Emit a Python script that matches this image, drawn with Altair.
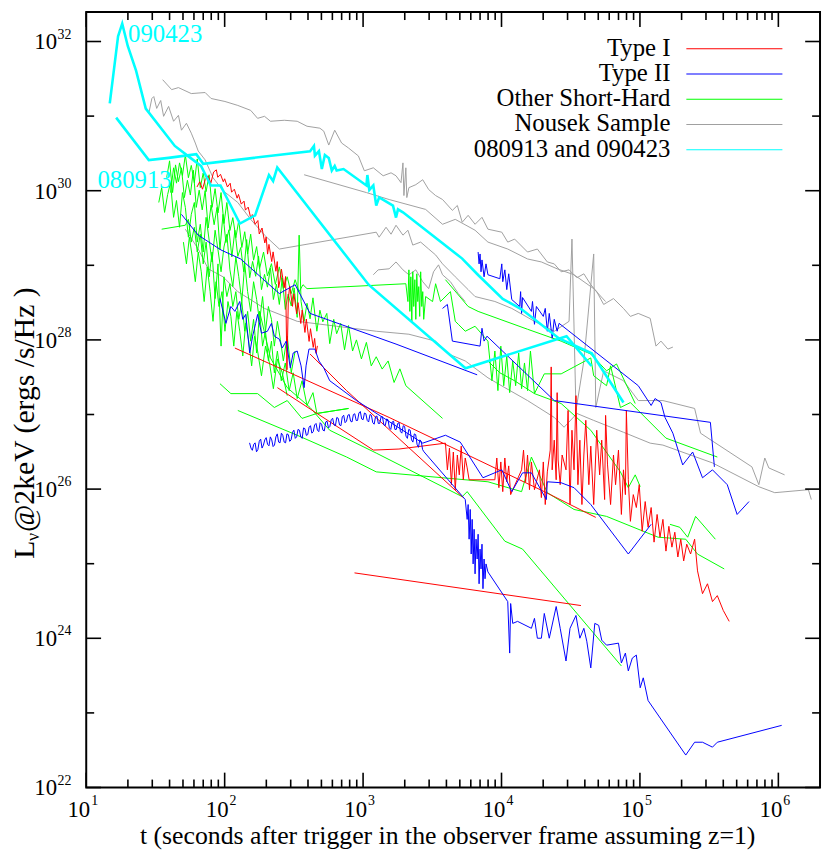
import altair as alt
import pandas as pd

# ---------------- data: (log10 t [s], log10 L_nu [erg/s/Hz]) ----------------
CYAN_090423 = [(1.17,31.17),(1.23,32.07),(1.26,32.24),(1.30,31.94),(1.36,31.61),(1.43,31.10),(1.64,30.60),(1.76,30.43),(1.83,30.33),(1.90,30.07),(1.97,30.07),(2.11,29.56),(2.22,29.67),(2.32,30.21),(2.35,30.13),(2.38,30.31),(3.04,28.74),(3.74,27.62),(4.47,28.05),(4.65,27.65)]
CYAN_080913 = [(1.216,30.98),(1.452,30.41),(1.595,30.44),(1.795,30.49),(1.845,30.36),(2.617,30.53),(2.645,30.60),(2.652,30.47),(2.681,30.53),(2.702,30.29),(2.724,30.48),(2.752,30.44),(2.774,30.27),(2.795,30.33),(2.809,30.27),(2.859,30.29),(3.024,30.07),(3.031,30.21),(3.045,30.01),(3.074,30.07),(3.095,29.80),(3.116,29.91),(3.216,29.80),(3.238,29.64),(3.252,29.75),(3.288,29.71),(3.716,29.09),(3.831,28.87),(4.009,28.55),(4.145,28.41),(4.416,28.02),(4.652,27.82),(4.881,27.16)]

RED_1 = [(1.80,30.05),(1.82,30.12),(1.84,30.02),(1.86,30.15),(1.88,30.20),(1.90,30.10),(1.92,30.25),(1.94,30.28),(1.95,30.18),(1.97,30.22),(1.99,30.12),(2.00,30.16),(2.02,30.05),(2.04,30.10),(2.05,29.98),(2.07,30.02),(2.09,29.90),(2.10,29.95),(2.12,29.82),(2.14,29.86),(2.15,29.74),(2.17,29.78),(2.19,29.62),(2.20,29.68),(2.22,29.55),(2.24,29.60),(2.25,29.42),(2.27,29.50),(2.29,29.30),(2.30,29.38),(2.31,29.15),(2.32,29.28),(2.34,29.05),(2.35,29.18),(2.37,28.92),(2.38,29.05),(2.39,28.70),(2.40,28.80),(2.41,28.95),(2.43,28.70),(2.44,28.85),(2.45,27.60),(2.46,28.55),(2.47,28.72),(2.49,28.45),(2.50,28.62),(2.52,28.35),(2.53,28.50),(2.55,28.22),(2.56,28.40),(2.58,28.10),(2.59,28.28),(2.61,27.98),(2.62,28.15),(2.64,27.90),(2.65,28.02),(2.66,27.82),(2.67,27.92)]
RED_2 = [(2.074,27.891),(3.188,26.961),(4.309,25.966),(4.681,25.621)]
RED_3 = [(2.617,27.811),(2.881,27.320),(3.724,25.886)]
RED_4 = [(2.938,24.877),(4.574,24.439)]
RED_5 = [(2.381,27.360),(3.074,26.523),(3.259,26.537),(3.595,26.616),(3.609,26.258),(3.624,26.550),(3.638,26.059),(3.652,26.497),(3.666,25.992),(3.681,26.457),(3.695,26.191),(3.709,26.576),(3.724,26.125),(3.738,26.417),(3.752,26.284),(3.766,26.125),(3.952,26.125),(3.966,26.417),(3.981,26.019),(3.995,26.364),(4.009,25.966),(4.024,26.417),(4.038,26.098),(4.052,26.311),(4.066,25.926),(4.145,26.258),(4.159,26.523),(4.174,26.098),(4.188,26.457),(4.202,25.992),(4.216,26.364),(4.238,25.992),(4.274,26.258),(4.288,25.886),(4.302,26.364),(4.316,25.793),(4.331,26.231),(4.352,26.523),(4.359,27.638),(4.366,26.258),(4.381,26.656),(4.395,26.125),(4.402,27.293),(4.409,26.390),(4.424,26.059),(4.438,26.457),(4.466,26.258),(4.481,27.054),(4.495,25.793),(4.509,26.789),(4.524,26.258),(4.538,27.253),(4.552,26.059),(4.566,26.656),(4.581,25.793),(4.595,26.457),(4.609,26.922),(4.631,26.059),(4.645,26.576),(4.666,25.793),(4.688,26.789),(4.709,26.191),(4.724,26.656),(4.745,25.860),(4.752,26.988),(4.766,26.324),(4.788,25.793),(4.809,26.457),(4.824,26.059),(4.845,26.523),(4.866,25.660),(4.881,26.258),(4.895,25.926),(4.902,27.054),(4.916,26.125),(4.931,25.568),(4.952,25.926),(4.974,25.753),(4.995,26.059),(5.016,25.435),(5.038,25.833),(5.059,25.488),(5.081,25.753),(5.102,25.289),(5.124,25.660),(5.145,25.355),(5.166,25.594),(5.188,25.169),(5.209,25.501),(5.231,25.222),(5.252,25.422),(5.274,25.090),(5.295,25.329),(5.316,25.037),(5.338,25.262),(5.366,25.130),(5.395,25.329),(5.416,24.904),(5.452,24.598),(5.488,24.731),(5.524,24.492),(5.559,24.572),(5.602,24.373),(5.645,24.227)]

BLUE_1 = [(1.688,29.683),(1.809,29.404),(1.974,29.205),(2.116,29.085),(2.274,28.820),(2.395,28.621),(2.509,28.740),(2.617,28.355),(3.238,27.944),(3.824,27.532)]
BLUE_2 = [(1.966,28.554),(2.009,28.222),(2.045,28.448),(2.074,28.382),(2.109,28.515),(2.131,28.276),(2.152,28.342),(2.181,27.824),(2.202,28.050),(2.224,28.222),(2.238,28.342),(2.266,28.090),(2.309,28.116),(2.338,28.222),(2.359,28.050),(2.395,28.010),(2.416,27.891),(2.445,27.984),(2.474,27.625),(2.495,27.824),(2.524,27.851),(2.552,27.652),(2.574,27.360),(2.588,27.652),(2.609,27.877),(2.652,27.877),(2.681,27.718),(2.716,27.625),(2.759,27.453),(2.952,27.187),(3.431,26.616),(3.595,26.722),(3.702,26.630),(3.866,26.152),(4.002,26.258),(4.074,25.966),(4.152,26.218),(4.216,26.218),(4.324,25.860),(4.331,26.098),(4.431,26.085),(4.524,26.019),(4.645,25.793),(4.916,25.130),(5.081,25.528)]
BLUE_3 = [(2.18,26.62),(2.19,26.55),(2.20,26.52),(2.21,26.60),(2.22,26.62),(2.23,26.50),(2.24,26.53),(2.25,26.64),(2.26,26.67),(2.27,26.55),(2.28,26.59),(2.29,26.66),(2.30,26.69),(2.31,26.60),(2.32,26.58),(2.33,26.70),(2.34,26.66),(2.35,26.57),(2.36,26.59),(2.37,26.70),(2.38,26.74),(2.39,26.63),(2.40,26.62),(2.41,26.75),(2.42,26.72),(2.43,26.63),(2.44,26.62),(2.45,26.74),(2.46,26.73),(2.47,26.64),(2.48,26.66),(2.49,26.76),(2.50,26.79),(2.51,26.68),(2.52,26.70),(2.53,26.80),(2.54,26.79),(2.55,26.70),(2.56,26.68),(2.57,26.82),(2.58,26.81),(2.59,26.72),(2.60,26.73),(2.61,26.83),(2.62,26.85),(2.63,26.75),(2.64,26.77),(2.65,26.86),(2.66,26.88),(2.67,26.79),(2.68,26.77),(2.69,26.89),(2.70,26.87),(2.71,26.79),(2.72,26.78),(2.73,26.90),(2.74,26.91),(2.75,26.82),(2.76,26.84),(2.77,26.93),(2.78,26.95),(2.79,26.86),(2.80,26.85),(2.81,26.96),(2.82,26.95),(2.83,26.86),(2.84,26.85),(2.85,26.97),(2.86,26.99),(2.87,26.89),(2.88,26.91),(2.89,26.99),(2.90,27.00),(2.91,26.91),(2.92,26.90),(2.93,27.00),(2.94,27.01),(2.95,26.92),(2.96,26.92),(2.97,27.02),(2.98,27.04),(2.99,26.94),(3.00,26.93),(3.01,27.02),(3.02,27.01),(3.03,26.92),(3.04,26.90),(3.05,27.00),(3.06,26.99),(3.07,26.89),(3.08,26.87),(3.09,26.97),(3.10,26.98),(3.11,26.88),(3.12,26.88),(3.13,26.97),(3.14,26.97),(3.15,26.86),(3.16,26.85),(3.17,26.94),(3.18,26.93),(3.19,26.82),(3.20,26.80),(3.21,26.90),(3.22,26.91),(3.23,26.80),(3.24,26.80),(3.25,26.88),(3.26,26.89),(3.27,26.77),(3.28,26.75),(3.29,26.85),(3.30,26.84),(3.31,26.71),(3.32,26.68),(3.33,26.80),(3.34,26.79),(3.35,26.66),(3.36,26.63),(3.37,26.74),(3.38,26.73),(3.39,26.60),(3.40,26.56),(3.41,26.66),(3.42,26.64),(3.43,26.53),(3.44,26.50),
           (3.738,25.860),(3.752,25.594),(3.759,25.793),(3.766,25.329),(3.774,25.727),(3.781,25.130),(3.788,25.594),(3.795,24.997),(3.802,25.461),(3.809,24.864),(3.816,25.329),(3.824,25.063),(3.831,25.395),(3.838,24.731),(3.845,25.196),(3.852,24.930),(3.859,25.262),(3.866,24.665),(3.874,25.063),(3.881,24.798),(3.888,24.997),(3.902,24.890),(4.045,24.492),(4.059,23.802),(4.066,24.466),(4.081,24.200),(4.116,24.227),(4.216,24.134),(4.238,24.267),(4.259,24.001),(4.288,24.001),(4.309,24.333),(4.345,24.001),(4.395,24.426),(4.424,24.134),(4.466,23.696),(4.495,24.134),(4.538,24.306),(4.566,24.001),(4.595,24.134),(4.616,23.961),(4.645,23.603),(4.674,24.200),(4.702,24.174),(4.724,23.975),(4.759,23.908),(4.845,23.935),(4.866,23.669),(4.895,23.802),(4.916,23.563),(4.945,23.735),(4.974,23.775),(5.002,23.337),(5.024,23.470),(5.059,23.165),(5.331,22.435),(5.395,22.607),(5.452,22.607),(5.524,22.541),(5.559,22.607),(6.024,22.833)]
BLUE_4 = [(3.831,29.178),(3.838,29.019),(3.845,29.152),(3.852,28.913),(3.859,29.072),(3.874,28.846),(3.888,29.019),(3.902,28.873),(3.988,28.820),(4.002,29.019),(4.009,28.780),(4.024,28.939),(4.038,28.674),(4.052,28.886),(4.074,28.541),(4.131,28.448),(4.138,28.647),(4.145,28.355),(4.152,28.568),(4.216,28.382),(4.224,28.515),(4.238,28.209),(4.252,28.448),(4.302,28.315),(4.316,28.422),(4.331,28.116),(4.345,28.355),(4.366,28.023),(4.381,28.276),(4.402,28.116),(4.416,28.222),(4.988,27.386),(5.081,27.121),(5.109,27.214),(5.152,27.160),(5.181,26.961),(5.238,26.749),(5.309,26.324),(5.381,26.497),(5.452,26.152),(5.524,26.258),(5.631,26.059),(5.702,25.660),(5.788,25.833)]
BLUE_5 = [(3.574,28.422),(3.609,28.475),(3.645,27.984),(3.845,27.917),(3.859,28.156),(3.874,27.984),(3.895,28.050),(4.381,27.187),(5.509,26.895),(5.538,26.298)]

GREEN_1 = [(1.581,30.174),(1.602,30.400),(1.624,29.975),(1.645,30.346),(1.666,30.121),(1.688,30.307),(1.709,29.908),(1.731,30.140),(1.752,29.942),(1.774,30.274),(1.795,29.776),(1.816,30.007),(1.838,29.743),(1.859,30.001),(1.881,29.500),(1.902,29.808),(1.924,29.544),(1.945,29.776),(1.966,29.211),(1.988,29.683),(2.009,29.305),(2.031,29.476),(2.052,29.112),(2.074,29.470),(2.095,29.119),(2.116,29.238),(2.138,28.913),(2.159,29.345),(2.181,28.833),(2.202,29.052),(2.224,28.853),(2.245,29.122),(2.266,28.674),(2.288,28.879),(2.309,28.707),(2.331,28.963),(2.352,28.541),(2.374,28.746),(2.395,28.475),(2.416,28.830),(2.438,28.408),(2.459,28.614),(2.481,28.455),(2.502,28.697),(2.524,28.302),(2.538,29.404),(2.552,28.514),(2.574,28.249),(2.595,28.491),(2.617,28.283),(2.638,28.564),(2.666,28.116),(2.688,28.398),(2.709,28.243),(2.738,28.355),(2.759,27.950),(2.788,28.276),(2.809,28.083),(2.838,28.222),(2.866,27.867),(2.895,28.193),(2.924,27.851),(2.952,28.000),(2.988,27.745),(3.024,27.967),(3.059,27.652),(3.095,27.774),(3.138,27.609),(3.181,27.718),(3.224,27.429),(3.266,27.612),(3.309,27.386),(3.574,26.948)]
GREEN_2 = [(1.545,29.484),(1.716,29.537),(1.738,29.616),(1.759,29.311),(1.781,29.510),(1.802,29.178),(1.824,29.417),(1.845,29.019),(1.866,29.311),(1.888,28.846),(1.909,29.178),(1.931,28.554),(1.952,29.019),(1.974,27.917),(1.995,28.846),(2.016,28.581),(2.038,28.753),(2.059,28.448),(2.081,28.647),(2.102,28.276),(2.124,28.514),(2.145,28.116),(2.166,28.382),(2.188,27.983),(2.209,28.276),(2.231,27.824),(2.252,28.382),(2.274,27.917),(2.295,28.116),(2.316,27.718),(2.338,27.983),(2.359,27.559),(2.381,27.851),(2.409,27.452),(2.438,27.691),(2.466,27.320),(2.495,27.559),(2.524,27.214),(2.559,27.452),(2.595,27.121),(2.638,27.293),(2.666,27.014),(2.895,27.081)]
GREEN_3 = [(1.609,29.975),(1.631,30.307),(1.652,30.101),(1.674,30.373),(1.695,30.204),(1.716,30.479),(1.738,30.174),(1.759,30.339),(1.781,30.107),(1.802,30.426),(1.824,30.041),(1.845,30.237),(1.866,29.988),(1.888,30.214),(1.909,29.776),(1.931,30.027),(1.952,29.703),(1.974,29.975),(1.995,29.560),(2.016,29.842),(2.038,29.467),(2.059,29.639),(2.081,29.371),(2.102,29.603),(2.124,29.238),(2.145,29.450),(2.166,29.152),(2.188,29.417),(2.209,29.069),(2.231,29.251),(2.252,28.953),(2.281,29.178),(2.309,28.857),(2.338,29.022),(2.366,28.744),(2.395,28.979),(2.424,28.687),(2.452,28.846),(2.481,28.621),(2.509,28.807),(2.538,28.647),(2.566,28.740),(2.595,28.687),(3.309,28.753),(3.324,28.514),(3.331,28.939),(3.338,28.382),(3.345,28.846),(3.352,28.249),(3.359,28.913),(3.366,28.448),(3.374,28.807),(3.381,28.276),(3.388,28.886),(3.395,28.514),(3.402,28.714),(3.409,28.315),(3.416,28.913),(3.424,28.448),(3.431,28.647),(3.438,28.276),(3.452,28.581),(3.502,28.514),(3.524,28.753),(3.559,28.514),(3.631,28.647),(3.666,28.249),(3.688,28.209),(3.738,28.116),(3.809,28.183),(3.902,27.983),(3.931,27.452),(3.952,27.851),(3.974,27.320),(3.995,27.917),(4.016,27.386),(4.038,27.784),(4.059,27.293),(4.081,27.718),(4.102,27.386),(4.124,27.824),(4.145,27.346),(4.166,27.691),(4.188,27.320),(4.209,27.851),(4.238,27.280),(4.309,27.545),(4.431,27.545),(4.645,27.758),(4.666,27.519),(4.759,27.386),(4.788,27.652),(4.859,27.094),(4.931,27.160),(5.188,26.683),(5.559,26.430)]
GREEN_4 = [(2.252,28.382),(2.331,27.758),(2.452,27.360),(2.617,27.094),(2.759,26.789),(3.095,26.483),(3.716,25.899),(3.752,25.966),(4.024,25.302),(4.152,25.196),(4.866,23.629)]
GREEN_5 = [(1.966,27.413),(2.045,27.280),(2.238,27.280),(2.359,27.094),(2.452,27.187),(2.559,26.948),(2.666,27.014),(2.895,27.081)]
GREEN_6 = [(2.095,27.054),(2.524,26.722),(2.881,26.430),(3.095,26.231),(3.902,26.098),(4.145,25.966),(4.216,26.430),(4.331,25.952),(4.524,25.727),(4.759,25.634),(5.131,25.355),(5.331,25.328),(5.416,25.129),(5.609,24.930)]
GREEN_7 = [(5.217,25.528),(5.288,25.488),(5.345,25.355),(5.402,25.634),(5.545,25.328)]
GREEN_8 = [(3.902,27.718),(3.988,27.559),(4.095,27.452),(4.238,27.280),(4.431,27.147),(4.645,26.789),(4.859,26.231),(4.916,26.019),(4.966,26.191),(5.002,26.032)]
GREEN_9 = [(3.595,28.807),(3.759,28.448),(3.831,28.382),(4.188,28.143),(4.431,27.983),(4.645,27.811),(4.759,27.585),(4.831,27.678),(4.895,27.426),(4.966,27.147)]
GREEN_10 = [(1.524,29.842),(1.545,30.041),(1.566,29.709),(1.588,29.948),(1.609,30.107),(1.631,29.643),(1.652,29.869),(1.674,29.510),(1.695,29.975),(1.716,29.776),(1.738,29.377),(1.759,29.683),(1.781,29.842),(1.802,29.311),(1.824,29.550),(1.845,29.178),(1.866,29.643),(1.888,29.338),(1.909,29.045),(1.931,29.470),(1.952,29.205),(1.974,28.913),(1.995,29.245),(2.016,29.417),(2.038,28.939),(2.059,28.714),(2.081,29.112),(2.102,28.846),(2.124,28.514),(2.145,29.019),(2.166,28.647),(2.188,28.382),(2.209,28.780),(2.231,28.541),(2.252,28.249),(2.274,28.581),(2.295,28.116),(2.316,28.448),(2.338,28.276),(2.359,27.917),(2.381,28.249),(2.402,28.010),(2.424,27.718),(2.452,28.050),(2.481,27.559),(2.509,27.851)]
GREEN_11 = [(1.702,29.311),(1.724,29.019),(1.745,29.377),(1.766,29.112),(1.788,28.780),(1.809,29.178),(1.831,28.913),(1.852,28.514),(1.874,28.979),(1.895,28.647),(1.916,28.249),(1.938,28.780),(1.959,28.448),(1.981,28.647),(2.002,28.116),(2.024,28.514),(2.045,28.315),(2.066,27.917),(2.088,28.382),(2.109,28.116),(2.131,27.784),(2.152,28.222),(2.174,27.983),(2.195,27.652),(2.216,28.050),(2.238,27.851),(2.266,27.519),(2.295,27.917),(2.324,27.691),(2.352,27.346),(2.381,27.745),(2.416,27.559),(2.452,27.253)]

GRAY_1 = [(1.552,31.488),(1.617,31.355),(1.666,31.382),(1.759,31.302),(1.859,31.316),(1.902,31.236),(2.002,31.196),(2.095,31.143),(2.188,31.077),(2.238,30.970),(2.288,30.997),(2.331,30.931),(2.431,30.944),(2.524,30.931),(2.595,30.864),(2.688,30.838),(2.716,30.798),(2.752,30.612),(2.795,30.811),(2.845,30.639),(2.895,30.572),(2.966,30.466),(3.009,30.267),(3.074,30.307),(3.145,30.200),(3.202,30.240),(3.238,30.200),(3.274,30.108),(3.288,30.373),(3.295,29.935),(3.309,30.307),(3.316,29.908),(3.331,30.041),(3.381,30.081),(3.431,30.147),(3.474,30.015),(3.524,29.935),(3.574,29.882),(3.645,29.736),(3.681,29.802),(3.716,29.577),(3.759,29.670),(3.809,29.550),(3.859,29.643),(3.902,29.484),(4.002,29.444),(4.045,29.311),(4.095,29.351),(4.188,29.178),(4.259,29.218),(4.331,29.045),(4.381,29.019),(4.431,28.913),(4.488,28.939),(4.545,28.833),(4.595,28.886),(4.645,28.740),(4.688,28.647),(4.738,28.475),(4.809,28.554),(4.881,28.422),(4.931,28.315),(4.988,28.355),(5.074,28.289),(5.116,27.917),(5.152,27.984),(5.202,27.877),(5.238,27.904)]
GRAY_2 = [(1.452,31.037),(1.474,31.236),(1.488,31.262),(1.509,31.103),(1.538,31.209),(1.559,30.997),(1.595,31.130),(1.631,30.931),(1.666,31.010),(1.688,30.811),(1.724,30.904),(1.759,30.771),(1.788,30.639),(1.809,30.532),(1.859,30.413),(1.916,30.174),(1.988,30.001),(2.095,29.842),(2.188,29.616),(2.288,29.404),(2.395,29.218),(3.095,29.444),(3.116,29.377),(3.166,29.510),(3.202,29.417),(3.238,29.537),(3.288,29.404),(3.324,29.470),(3.359,29.271),(3.416,29.311),(3.474,29.218),(3.524,29.139),(3.574,29.019),(3.666,28.846),(3.759,28.674),(3.809,28.581),(3.952,28.515),(4.074,28.422),(4.238,28.249),(4.381,28.116),(4.488,28.249),(4.509,29.351),(4.538,27.054),(4.595,27.718),(4.666,29.152),(4.681,27.094),(4.738,27.585),(4.881,27.453),(4.988,27.187),(5.166,27.187),(5.395,27.081),(5.438,26.749),(5.809,26.298),(5.859,26.059),(5.902,26.417),(5.931,26.284),(6.045,26.191)]
GRAY_3 = [(2.574,30.214),(3.024,29.975),(3.188,29.882),(3.452,29.749),(3.574,29.550),(3.666,29.616),(3.809,29.470),(3.902,29.311),(4.045,29.218),(4.188,29.085),(4.288,29.045),(4.402,28.953),(4.524,28.873),(4.666,28.687),(4.752,28.514)]
GRAY_4 = [(3.074,28.873),(3.109,28.939),(3.188,28.953),(3.238,29.045),(3.288,28.939),(3.331,28.873),(3.381,28.939),(3.431,28.780),(3.474,28.687),(3.509,28.913),(3.545,29.006),(3.574,28.873),(3.631,28.780),(3.688,28.621),(3.738,28.514)]
GRAY_5 = [(1.716,29.484),(1.809,29.218),(1.881,28.953),(1.988,28.846),(2.095,28.647),(2.288,28.422),(2.524,28.249),(2.809,28.183),(3.095,28.116),(3.331,28.076),(3.524,27.983),(3.617,27.811),(3.738,27.718),(3.902,27.492),(4.024,27.360),(4.188,27.187),(4.381,26.961),(4.452,26.829),(4.545,27.014),(4.666,26.921),(4.881,26.762),(5.074,26.616),(5.166,26.590),(5.524,26.351),(5.859,26.032),(5.974,25.952),(6.217,25.992),(6.238,25.860)]

CATEGORIES = ["Type I", "Type II", "Other Short-Hard", "Nousek Sample", "080913 and 090423"]
COLORS = ["#ff0000", "#0000ff", "#00ff00", "#a0a0a0", "#00ffff"]

CURVES = [
    ("Nousek Sample", "g1", GRAY_1), ("Nousek Sample", "g2", GRAY_2), ("Nousek Sample", "g3", GRAY_3),
    ("Nousek Sample", "g4", GRAY_4), ("Nousek Sample", "g5", GRAY_5),
    ("Other Short-Hard", "s1", GREEN_1), ("Other Short-Hard", "s2", GREEN_2), ("Other Short-Hard", "s3", GREEN_3),
    ("Other Short-Hard", "s4", GREEN_4), ("Other Short-Hard", "s5", GREEN_5), ("Other Short-Hard", "s6", GREEN_6),
    ("Other Short-Hard", "s7", GREEN_7), ("Other Short-Hard", "s8", GREEN_8), ("Other Short-Hard", "s9", GREEN_9),
    ("Other Short-Hard", "s10", GREEN_10), ("Other Short-Hard", "s11", GREEN_11),
    ("Type I", "r1", RED_1), ("Type I", "r2", RED_2), ("Type I", "r3", RED_3), ("Type I", "r4", RED_4), ("Type I", "r5", RED_5),
    ("Type II", "b1", BLUE_1), ("Type II", "b2", BLUE_2), ("Type II", "b3", BLUE_3), ("Type II", "b4", BLUE_4), ("Type II", "b5", BLUE_5),
    ("080913 and 090423", "c1", CYAN_090423), ("080913 and 090423", "c2", CYAN_080913),
]

ANNOTATIONS = [("090423", 1.302, 31.993), ("080913", 1.081, 30.041)]

X_MAJOR = [1, 2, 3, 4, 5, 6]          # exponents of labelled x ticks
Y_MAJOR = [22, 24, 26, 28, 30, 32]    # exponents of labelled y ticks
Y_MINOR = [23, 25, 27, 29, 31]

# ---------------- build tables ----------------
rows = []
for cat, sid, pts in CURVES:
    for i, (a, b) in enumerate(pts):
        rows.append({"cat": cat, "sid": sid, "i": i, "t": 10 ** a, "L": 10 ** b})
df = pd.DataFrame(rows)

xmaj = pd.DataFrame({"v": [10.0 ** e for e in X_MAJOR], "e": [str(e) for e in X_MAJOR]})
xmin = pd.DataFrame({"v": [k * 10.0 ** e for e in X_MAJOR for k in range(2, 10) if k * 10.0 ** e < 2e6]})
ymaj = pd.DataFrame({"v": [10.0 ** e for e in Y_MAJOR], "e": [str(e) for e in Y_MAJOR]})
ymin = pd.DataFrame({"v": [10.0 ** e for e in Y_MINOR]})
ann = pd.DataFrame({"txt": [a[0] for a in ANNOTATIONS], "t": [10 ** a[1] for a in ANNOTATIONS], "L": [10 ** a[2] for a in ANNOTATIONS]})
one = pd.DataFrame({"k": [0]})

W, H = 741, 783
FONT = "Liberation Serif"
xs = alt.Scale(type="log", domain=[10, 2e6], nice=False)
ys = alt.Scale(type="log", domain=[1e22, 10 ** 32.394], nice=False)

layers = []
for cat, col, sw in [("Nousek Sample", COLORS[3], 1.0), ("Other Short-Hard", COLORS[2], 1.0),
                     ("Type I", COLORS[0], 1.0), ("Type II", COLORS[1], 1.0), ("080913 and 090423", COLORS[4], 2.6)]:
    layers.append(
        alt.Chart(df).transform_filter(alt.datum.cat == cat)
        .mark_line(color=col, strokeWidth=sw, clip=True)
        .encode(x=alt.X("t:Q", scale=xs, axis=None), y=alt.Y("L:Q", scale=ys, axis=None),
                detail="sid:N", order="i:Q")
    )

layers.append(alt.Chart(ann).mark_text(font=FONT, fontSize=25, color="#00ffff", align="left", baseline="alphabetic")
              .encode(x=alt.X("t:Q", scale=xs, axis=None), y=alt.Y("L:Q", scale=ys, axis=None), text="txt:N"))

TK = dict(color="black", strokeWidth=1.6)
for d, ln in [(xmaj, 15), (xmin, 8)]:
    layers.append(alt.Chart(d).mark_rule(**TK).encode(x=alt.X("v:Q", scale=xs, axis=None), y=alt.value(H), y2=alt.value(H - ln)))
    layers.append(alt.Chart(d).mark_rule(**TK).encode(x=alt.X("v:Q", scale=xs, axis=None), y=alt.value(0), y2=alt.value(ln)))
for d, ln in [(ymaj, 15), (ymin, 8)]:
    layers.append(alt.Chart(d).mark_rule(**TK).encode(y=alt.Y("v:Q", scale=ys, axis=None), x=alt.value(0), x2=alt.value(ln)))
    layers.append(alt.Chart(d).mark_rule(**TK).encode(y=alt.Y("v:Q", scale=ys, axis=None), x=alt.value(W), x2=alt.value(W - ln)))

layers.append(alt.Chart(xmaj).mark_text(font=FONT, fontSize=23, align="right", baseline="alphabetic", dx=4)
              .encode(x=alt.X("v:Q", scale=xs, axis=None), y=alt.value(H + 30), text=alt.value("10")))
layers.append(alt.Chart(xmaj).mark_text(font=FONT, fontSize=14, align="left", baseline="alphabetic", dx=5)
              .encode(x=alt.X("v:Q", scale=xs, axis=None), y=alt.value(H + 18), text="e:N"))
layers.append(alt.Chart(ymaj).mark_text(font=FONT, fontSize=23, align="right", baseline="alphabetic", dy=8)
              .encode(y=alt.Y("v:Q", scale=ys, axis=None), x=alt.value(-29.5), text=alt.value("10")))
layers.append(alt.Chart(ymaj).mark_text(font=FONT, fontSize=14, align="left", baseline="alphabetic", dy=-3)
              .encode(y=alt.Y("v:Q", scale=ys, axis=None), x=alt.value(-29), text="e:N"))

layers.append(alt.Chart(one).mark_text(font=FONT, fontSize=26, align="center", baseline="alphabetic")
              .encode(x=alt.value(365), y=alt.value(H + 57),
                      text=alt.value("t (seconds after trigger in the observer frame assuming z=1)")))
layers.append(alt.Chart(one).mark_text(font=FONT, fontSize=30, align="left", baseline="alphabetic", angle=270)
              .encode(x=alt.value(-53), y=alt.value(552), text=alt.value("L")))
layers.append(alt.Chart(one).mark_text(font=FONT, fontSize=18, align="left", baseline="alphabetic", angle=270)
              .encode(x=alt.value(-48), y=alt.value(534), text=alt.value("ν")))
layers.append(alt.Chart(one).mark_text(font=FONT, fontSize=30, align="left", baseline="alphabetic", angle=270)
              .encode(x=alt.value(-53), y=alt.value(525), text=alt.value("@2keV (ergs /s/Hz )")))

for k, (name, col) in enumerate(zip(CATEGORIES, COLORS)):
    yy = 37 + 25.5 * k
    layers.append(alt.Chart(one).mark_rule(color=col, strokeWidth=1.2)
                  .encode(x=alt.value(606), x2=alt.value(703), y=alt.value(yy)))
    layers.append(alt.Chart(one).mark_text(font=FONT, fontSize=25, align="right", baseline="alphabetic")
                  .encode(x=alt.value(590), y=alt.value(yy + 7), text=alt.value(name)))

chart = alt.layer(*layers).properties(
    width=W, height=H,
    autosize=alt.AutoSizeParams(type="none"),
    padding={"left": 79, "top": 0, "right": 3, "bottom": 63},
).configure_view(stroke="black", strokeWidth=2)

chart.save("out.html", embed_options={"renderer": "svg", "actions": False})
